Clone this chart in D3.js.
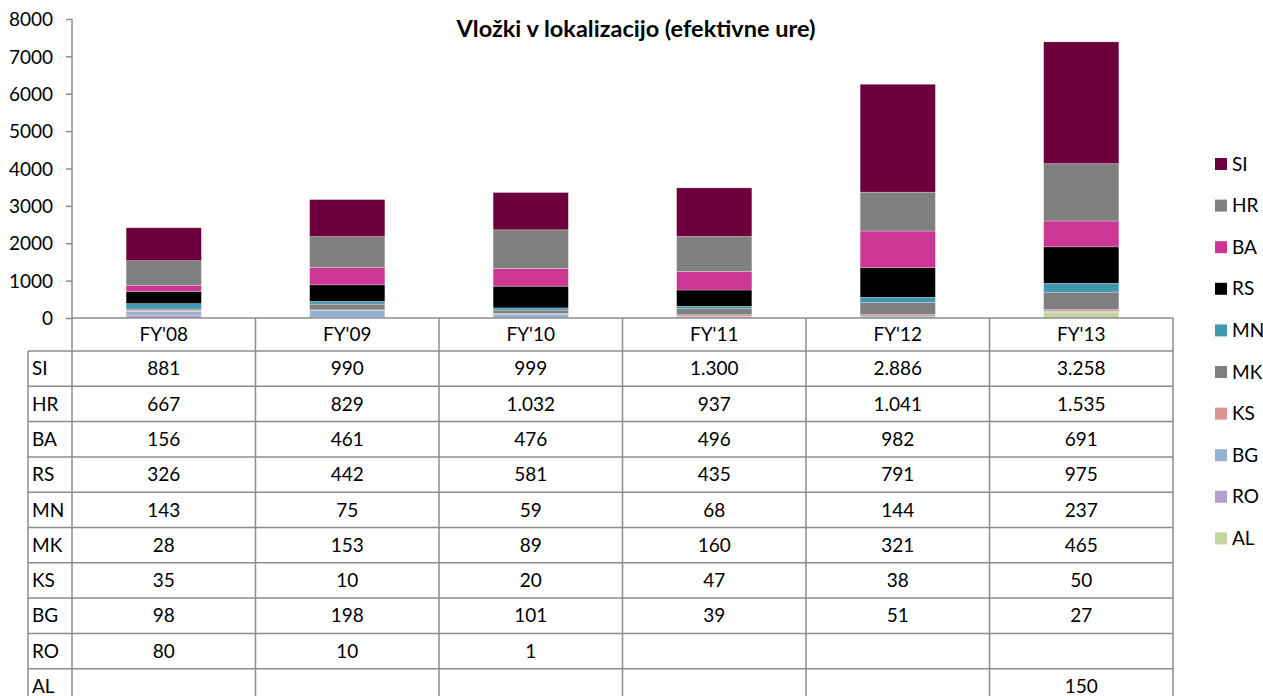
<!DOCTYPE html>
<html>
<head>
<meta charset="utf-8">
<script src="https://cdn.jsdelivr.net/npm/d3@7"></script>
<style>
  body { margin: 0; background: #fff; }
  text { font-family: Lato, "Open Sans", sans-serif; fill: #000; }
</style>
</head>
<body>
<div id="chart"></div>
<script>
// ----------------------------------------------
// Data
// ----------------------------------------------
var years = ["FY'08", "FY'09", "FY'10", "FY'11", "FY'12", "FY'13"];
// table order (top to bottom)
var countries = ["SI", "HR", "BA", "RS", "MN", "MK", "KS", "BG", "RO", "AL"];
var SI = [881, 990, 999, 1300, 2886, 3258];
var HR = [667, 829, 1032, 937, 1041, 1535];
var BA = [156, 461, 476, 496, 982, 691];
var RS = [326, 442, 581, 435, 791, 975];
var MN = [143, 75, 59, 68, 144, 237];
var MK = [28, 153, 89, 160, 321, 465];
var KS = [35, 10, 20, 47, 38, 50];
var BG = [98, 198, 101, 39, 51, 27];
var RO = [80, 10, 1, null, null, null];
var AL = [null, null, null, null, null, 150];
var yTicks = [0, 1000, 2000, 3000, 4000, 5000, 6000, 7000, 8000];
var title = "Vložki v lokalizacijo (efektivne ure)";

var series = { SI: SI, HR: HR, BA: BA, RS: RS, MN: MN, MK: MK, KS: KS, BG: BG, RO: RO, AL: AL };
var colors = {
    SI: "#6d003c", HR: "#808080", BA: "#cc3796", RS: "#000000", MN: "#3f98b0",
    MK: "#7f7f7f", KS: "#d99594", BG: "#95b2d6", RO: "#b2a1c6", AL: "#c3d69b"
};

// ----------------------------------------------
// Setup
// ----------------------------------------------
var svgWidth = 1263;
var svgHeight = 696;
var plotLeft = 72, plotRight = 1173;
var yZero = 318, yTop = 19;
var rowH = 35.3, headerH = 33;
var labelLeft = 28;
var lineColor = "#8c8c8c";
var fontSize = "19px";

var svg = d3.select("#chart")
    .append("svg")
    .attr("width", svgWidth)
    .attr("height", svgHeight);

var x = d3.scaleBand().domain(years).range([plotLeft, plotRight]).padding(0);
var y = d3.scaleLinear().domain([0, 8000]).range([yZero, yTop]);
var barW = x.bandwidth() * 0.41;

// stacked bars, bottom = AL
var keys = countries.slice().reverse();
var rows = years.map((yr, i) => {
    var r = { year: yr };
    keys.forEach(k => r[k] = series[k][i] || 0);
    return r;
});
var stacked = d3.stack().keys(keys)(rows);

svg.append("g").selectAll("g")
    .data(stacked)
    .enter()
    .append("g")
    .attr("fill", d => colors[d.key])
    .selectAll("rect")
    .data(d => d)
    .enter()
    .append("rect")
    .attr("x", d => x(d.data.year) + (x.bandwidth() - barW) / 2)
    .attr("width", barW)
    .attr("y", d => y(d[1]))
    .attr("height", d => y(d[0]) - y(d[1]))
    .attr("stroke", "#fff")
    .attr("stroke-opacity", 0.45)
    .attr("stroke-width", 0.6);

// title
svg.append("text")
    .attr("x", 636)
    .attr("y", 37)
    .attr("text-anchor", "middle")
    .style("font-size", "23.5px")
    .style("font-weight", "bold")
    .text(title);

// y axis
var yAxis = svg.append("g")
    .attr("transform", `translate(${plotLeft},0)`)
    .call(d3.axisLeft(y).tickValues(yTicks).tickSize(6).tickPadding(13).tickFormat(d3.format("d")));
yAxis.select(".domain").remove();
yAxis.selectAll("line").attr("stroke", lineColor).attr("stroke-width", 1.5);
yAxis.selectAll("text").style("font-size", fontSize).attr("dy", "0.35em");

// ----------------------------------------------
// Data table
// ----------------------------------------------
var tableBottom = yZero + headerH + rowH * countries.length;
var fmt = d3.formatLocale({ decimal: ",", thousands: ".", grouping: [3], currency: ["", ""] }).format(",d");

var grid = svg.append("g")
    .attr("stroke", lineColor)
    .attr("stroke-width", 1.5);

// axis line running down through the table
grid.append("line").attr("x1", plotLeft).attr("x2", plotLeft).attr("y1", yTop).attr("y2", tableBottom);
// zero line / header top
grid.append("line").attr("x1", plotLeft).attr("x2", plotRight).attr("y1", yZero).attr("y2", yZero);
// column dividers
years.forEach(yr => {
    var xr = x(yr) + x.bandwidth();
    grid.append("line").attr("x1", xr).attr("x2", xr).attr("y1", yZero).attr("y2", tableBottom);
});
// label column left edge
grid.append("line").attr("x1", labelLeft).attr("x2", labelLeft).attr("y1", yZero + headerH).attr("y2", tableBottom);
// row lines
d3.range(countries.length + 1).forEach(i => {
    var yy = yZero + headerH + i * rowH;
    grid.append("line").attr("x1", labelLeft).attr("x2", plotRight).attr("y1", yy).attr("y2", yy);
});

// header
svg.append("g").selectAll("text")
    .data(years)
    .enter()
    .append("text")
    .attr("x", d => x(d) + x.bandwidth() / 2)
    .attr("y", yZero + headerH / 2)
    .attr("dy", "0.35em")
    .attr("text-anchor", "middle")
    .style("font-size", fontSize)
    .text(d => d);

// rows
countries.forEach((c, i) => {
    var cy = yZero + headerH + i * rowH + rowH / 2;
    svg.append("text")
        .attr("x", labelLeft + 4)
        .attr("y", cy)
        .attr("dy", "0.35em")
        .style("font-size", fontSize)
        .text(c);
    svg.append("g").selectAll("text")
        .data(series[c])
        .enter()
        .append("text")
        .attr("x", (d, j) => x(years[j]) + x.bandwidth() / 2)
        .attr("y", cy)
        .attr("dy", "0.35em")
        .attr("text-anchor", "middle")
        .style("font-size", fontSize)
        .text(d => d == null ? "" : fmt(d));
});

// ----------------------------------------------
// Legend
// ----------------------------------------------
var legend = svg.append("g").selectAll("g")
    .data(countries)
    .enter()
    .append("g")
    .attr("transform", (d, i) => `translate(1215, ${164 + i * 41.6})`);
legend.append("rect")
    .attr("x", 0)
    .attr("y", -6)
    .attr("width", 12)
    .attr("height", 12)
    .attr("fill", d => colors[d]);
legend.append("text")
    .attr("x", 17)
    .attr("y", 0)
    .attr("dy", "0.35em")
    .style("font-size", fontSize)
    .text(d => d);
</script>
</body>
</html>
